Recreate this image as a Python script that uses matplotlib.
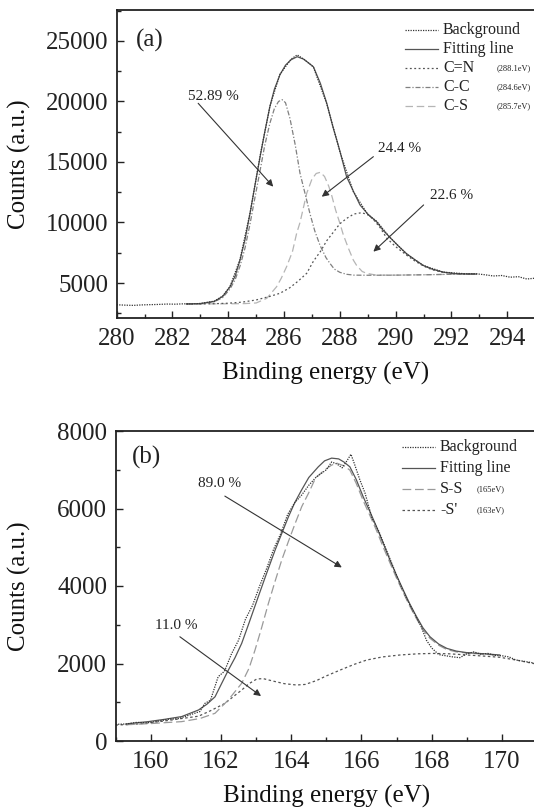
import matplotlib
matplotlib.use("Agg")
import matplotlib.pyplot as plt
from matplotlib.ticker import MultipleLocator

plt.rcParams['font.family'] = ['Liberation Serif', 'DejaVu Serif']
plt.rcParams['mathtext.fontset'] = 'stix'

# ---------------- Panel (a): C 1s ----------------
a_fit_x = [282.5, 283.0, 283.5, 283.8, 284.06, 284.25, 284.42, 284.6, 284.78, 284.95,
           285.14, 285.3, 285.49, 285.65, 285.85, 286.05, 286.25, 286.47, 286.7, 286.9,
           287.05, 287.3, 287.53, 287.75, 287.89, 288.0, 288.24, 288.48, 288.72, 289.0,
           289.32, 289.55, 289.8, 290.1, 290.39, 290.7, 290.99, 291.3, 291.7, 292.1,
           292.5, 292.9]
a_fit_y = [3270, 3300, 3480, 3900, 4690, 5600, 6900, 8600, 10760, 13000,
           15440, 17400, 19570, 21000, 22200, 23000, 23450, 23700, 23500, 23150,
           22870, 21500, 19850, 17900, 16800, 15900, 13780, 12600, 11450, 10700,
           10050, 9350, 8750, 8050, 7420, 6900, 6450, 6150, 5900, 5780,
           5750, 5740]

a_bg_x = [280.0, 280.3, 280.6, 280.9, 281.2, 281.5, 281.8, 282.1, 282.4, 282.7,
          283.0, 283.5, 283.8, 284.06, 284.42, 284.78, 285.14, 285.49, 285.85, 286.25,
          286.47, 286.7, 287.05, 287.53, 288.0, 288.48, 289.0, 289.32, 289.8, 290.39,
          290.99, 291.7, 292.5, 292.9, 293.2, 293.5, 293.8, 294.1, 294.4, 294.7, 295.0]
a_bg_y = [3200, 3170, 3150, 3190, 3210, 3230, 3260, 3250, 3280, 3270,
          3310, 3500, 3920, 4700, 6950, 10800, 15500, 19600, 22250, 23500,
          23850, 23500, 22850, 19800, 15850, 12550, 10650, 10100, 8750, 7400,
          6450, 5900, 5760, 5760, 5680, 5580, 5620, 5480, 5520, 5330, 5400]

a_cn_x = [282.5, 283.5, 284.0, 284.5, 285.0, 285.5, 285.85, 286.2, 286.5, 286.81,
          287.05, 287.3, 287.53, 287.8, 288.0, 288.25, 288.5, 288.78, 289.0, 289.2,
          289.45, 289.68, 290.0, 290.39, 290.7, 291.0, 291.3, 291.7, 292.1, 292.5, 292.9]
a_cn_y = [3270, 3290, 3330, 3420, 3600, 3900, 4150, 4600, 5150, 5800,
          6800, 7600, 8500, 9300, 9900, 10350, 10700, 10810, 10650, 10250,
          9550, 8700, 8000, 7300, 6800, 6400, 6100, 5880, 5780, 5750, 5740]

a_cc_x = [282.5, 283.0, 283.5, 283.8, 284.06, 284.25, 284.42, 284.6, 284.78, 284.95,
          285.14, 285.3, 285.49, 285.65, 285.8, 285.93, 286.05, 286.21, 286.4, 286.57,
          286.75, 286.93, 287.1, 287.29, 287.5, 287.65, 287.8, 288.0, 288.24, 288.5,
          289.0, 290.0, 291.0, 292.0, 292.9]
a_cc_y = [3270, 3280, 3450, 3800, 4500, 5300, 6400, 7900, 9900, 12000,
          14300, 16300, 18200, 19400, 20000, 20150, 19900, 18600, 16400, 14070,
          12400, 10700, 9300, 8100, 7100, 6600, 6150, 5880, 5720, 5650,
          5640, 5650, 5680, 5720, 5740]

a_cs_x = [282.5, 284.0, 284.6, 285.0, 285.38, 285.73, 285.9, 286.09, 286.3, 286.45,
          286.57, 286.7, 286.81, 287.0, 287.15, 287.3, 287.45, 287.6, 287.71, 287.85,
          288.0, 288.12, 288.3, 288.48, 288.6, 288.8, 288.96, 289.3, 290.0, 291.0,
          292.0, 292.9]
a_cs_y = [3270, 3280, 3300, 3350, 3735, 4690, 5400, 6350, 7600, 9110,
          10000, 11300, 12410, 13600, 14050, 14150, 13800, 13000, 12200, 11000,
          9930, 9000, 7900, 6900, 6450, 5950, 5800, 5650, 5650, 5680,
          5720, 5740]

a_xticks = [280, 282, 284, 286, 288, 290, 292, 294]
a_yticks = [5000, 10000, 15000, 20000, 25000]
a_legend = ["Background", "Fitting line", "C=N", "C-C", "C-S"]
a_legend_ev = ["", "", "(288.1eV)", "(284.6eV)", "(285.7eV)"]
a_pct = ["52.89 %", "24.4 %", "22.6 %"]
a_pct_text_xy = [(283.46, 20400), (290.15, 16130), (292.0, 12270)]
a_pct_tail = [(282.92, 19850), (289.2, 15440), (291.0, 11450)]
a_pct_head = [(285.61, 12960), (287.35, 12130), (289.2, 7590)]

# ---------------- Panel (b): S 2p ----------------
b_fit_x = [159.3, 159.6, 159.93, 160.4, 160.88, 161.36, 161.6, 161.83, 162.0, 162.21,
           162.4, 162.59, 162.8, 163.06, 163.3, 163.54, 163.75, 163.92, 164.1, 164.29,
           164.5, 164.77, 164.95, 165.15, 165.35, 165.5, 165.67, 165.85, 166.05, 166.25,
           166.43, 166.62, 166.81, 167.0, 167.19, 167.38, 167.57, 167.75, 167.95, 168.2,
           168.43, 168.7, 169.0, 169.5, 169.94]
b_fit_y = [440, 470, 500, 560, 630, 800, 950, 1140, 1450, 1830,
           2150, 2520, 3050, 3720, 4330, 4925, 5400, 5785, 6150, 6470,
           6800, 7075, 7230, 7300, 7280, 7200, 7075, 6750, 6300, 5900,
           5525, 5100, 4670, 4270, 3895, 3530, 3205, 2920, 2690, 2500,
           2390, 2320, 2280, 2250, 2220]

b_ss_x = [159.3, 160.0, 160.88, 161.4, 161.83, 162.2, 162.59, 162.8, 162.97, 163.15,
          163.35, 163.55, 163.73, 163.92, 164.11, 164.3, 164.49, 164.7, 164.96, 165.15,
          165.3, 165.5, 165.67, 165.85, 166.05, 166.25, 166.43, 166.62, 166.81, 167.0,
          167.19, 167.38, 167.57, 167.75, 167.95, 168.2, 168.43, 168.7, 169.0, 169.5, 169.94]
b_ss_y = [420, 450, 500, 580, 715, 1050, 1490, 1880, 2350, 2900,
          3550, 4150, 4670, 5150, 5610, 6050, 6390, 6800, 7000, 7120,
          7170, 7100, 6990, 6650, 6200, 5800, 5430, 5000, 4600, 4200,
          3830, 3470, 3150, 2870, 2650, 2470, 2360, 2300, 2270, 2240, 2210]

b_s2_x = [159.0, 159.5, 160.0, 160.5, 160.88, 161.36, 161.7, 162.11, 162.4, 162.59,
          162.8, 163.02, 163.2, 163.49, 163.8, 164.15, 164.4, 164.72, 165.0, 165.39,
          165.8, 166.15, 166.6, 167.1, 167.6, 168.05, 168.5, 169.0, 169.5, 169.94,
          170.4, 170.89, 171.0]
b_s2_y = [412, 430, 470, 530, 580, 640, 780, 970, 1180, 1315,
          1480, 1600, 1610, 1545, 1480, 1445, 1460, 1560, 1680, 1830,
          1980, 2090, 2170, 2220, 2250, 2260, 2250, 2220, 2190, 2160,
          2090, 2000, 1990]

b_bg_x = [159.0, 159.3, 159.6, 159.9, 160.2, 160.5, 160.8, 161.0, 161.2, 161.4,
          161.54, 161.7, 161.92, 162.1, 162.3, 162.5, 162.7, 162.9, 163.1, 163.3,
          163.5, 163.7, 163.9, 164.1, 164.3, 164.5, 164.7, 164.85, 165.0, 165.15,
          165.3, 165.45, 165.6, 165.7, 165.8, 165.95, 166.1, 166.3, 166.5, 166.7,
          166.9, 167.1, 167.3, 167.5, 167.7, 167.85, 168.0, 168.2, 168.4, 168.6,
          168.8, 169.0, 169.2, 169.4, 169.6, 169.8, 170.0, 170.2, 170.4, 170.6,
          170.8, 171.0]
b_bg_y = [430, 440, 480, 470, 510, 560, 580, 640, 700, 760,
          970, 1050, 1660, 1800, 2250, 2600, 3150, 3500, 4000, 4450,
          4950, 5350, 5850, 6150, 6350, 6600, 6800, 6900, 7000, 7200,
          7150, 7050, 7250, 7400, 7150, 6750, 6400, 5750, 5400, 4950,
          4500, 4050, 3650, 3300, 2950, 2600, 2400, 2230, 2200, 2170,
          2150, 2250, 2300, 2240, 2260, 2210, 2200, 2170, 2090, 2060,
          2030, 2000]

b_xticks = [160, 162, 164, 166, 168, 170]
b_yticks = [0, 2000, 4000, 6000, 8000]
b_legend = ["Background", "Fitting line", "S-S", "-S'"]
b_legend_ev = ["", "", "(165eV)", "(163eV)"]
b_pct = ["89.0 %", "11.0 %"]
b_pct_text_xy = [(161.97, 6646), (160.74, 2990)]
b_pct_tail = [(162.11, 6320), (160.83, 2690)]
b_pct_head = [(165.44, 4480), (163.14, 1160)]

# ---------------- figure ----------------
W, H = 534, 808
fig = plt.figure(figsize=(W / 100, H / 100), dpi=100)

ax_a = fig.add_axes([116.7 / W, 1 - 318 / H, (535.2 - 116.7) / W, (318 - 10) / H])
ax_b = fig.add_axes([115.6 / W, 1 - 741 / H, (537.1 - 115.6) / W, (741 - 431) / H])

styles_a = [
    dict(color='#333333', lw=0.9, ls=(0, (1.0, 1.0))),        # background/data
    dict(color='#555555', lw=0.9, ls='-'),                    # fit
    dict(color='#555555', lw=0.9, ls=(0, (1.5, 2.0))),        # C=N
    dict(color='#808080', lw=0.9, ls=(0, (4, 1.5, 1, 1.5))),  # C-C
    dict(color='#b5b5b5', lw=0.9, ls=(0, (6, 3))),            # C-S
]
series_a = [(a_bg_x, a_bg_y), (a_fit_x, a_fit_y), (a_cn_x, a_cn_y),
            (a_cc_x, a_cc_y), (a_cs_x, a_cs_y)]
for i in [4, 3, 2, 1, 0]:
    ax_a.plot(series_a[i][0], series_a[i][1], **styles_a[i])

styles_b = [
    dict(color='#333333', lw=0.9, ls=(0, (1.0, 1.0))),        # background/data
    dict(color='#555555', lw=0.9, ls='-'),                    # fit
    dict(color='#9a9a9a', lw=0.9, ls=(0, (7, 3))),            # S-S
    dict(color='#555555', lw=0.9, ls=(0, (2.0, 2.0))),        # -S'
]
series_b = [(b_bg_x, b_bg_y), (b_fit_x, b_fit_y), (b_ss_x, b_ss_y), (b_s2_x, b_s2_y)]
for i in [3, 2, 1, 0]:
    ax_b.plot(series_b[i][0], series_b[i][1], **styles_b[i])


def style_axes(ax, xlim, ylim, xticks, yticks, xminor, yminor):
    ax.set_xlim(*xlim)
    ax.set_ylim(*ylim)
    ax.set_xticks(xticks)
    ax.set_yticks(yticks)
    ax.xaxis.set_minor_locator(MultipleLocator(xminor))
    ax.yaxis.set_minor_locator(MultipleLocator(yminor))
    ax.tick_params(which='both', direction='in', top=False, right=False,
                   labelsize=18, width=1.0, colors='#222222')
    ax.xaxis.set_tick_params(which='both', pad=7)
    ax.yaxis.set_tick_params(which='both', pad=6)
    ax.tick_params(which='major', length=5)
    ax.tick_params(which='minor', length=3)
    for s in ['left', 'bottom', 'top']:
        ax.spines[s].set_linewidth(1.3)
        ax.spines[s].set_color('#222222')
    ax.spines['right'].set_visible(False)
    ax.set_xlabel('Binding energy (eV)', fontsize=18, labelpad=9, color='#111111')
    ax.set_ylabel('Counts (a.u.)', fontsize=18, color='#111111')


style_axes(ax_a, (280, 295), (2108, 27560), a_xticks, a_yticks, 1, 2500)
style_axes(ax_b, (159, 171), (0, 8000), b_xticks, b_yticks, 1, 1000)

ax_a.yaxis.set_label_coords((31 - 116.7) / (535.2 - 116.7), 0.5)
ax_b.yaxis.set_label_coords((31 - 115.6) / (537.1 - 115.6), 0.5)


def draw_legend(ax, labels, evs, styles, x0, x1, xt, xev, y0, dy):
    for k, (lab, ev, st) in enumerate(zip(labels, evs, styles)):
        y = y0 - k * dy
        ax.plot([x0, x1], [y, y], transform=ax.transAxes, **st)
        ax.text(xt, y, lab, transform=ax.transAxes, fontsize=11.5,
                va='center', ha='left', color='#222222')
        if ev:
            ax.text(xev, y, ev, transform=ax.transAxes, fontsize=6,
                    va='center', ha='left', color='#222222')


aw = 535.2 - 116.7
draw_legend(ax_a, a_legend, a_legend_ev, styles_a,
            (405 - 116.7) / aw, (438 - 116.7) / aw, (443 - 116.7) / aw,
            (497 - 116.7) / aw, 1 - (30 - 10) / 308, 19 / 308)
bw = 537.1 - 115.6
draw_legend(ax_b, b_legend, b_legend_ev, styles_b,
            (402 - 115.6) / bw, (435 - 115.6) / bw, (440 - 115.6) / bw,
            (477 - 115.6) / bw, 1 - (447 - 431) / 310, 21 / 310)

ax_a.text(281.2, 25080, '(a)', fontsize=18, ha='center', va='center', color='#222222')
ax_b.text(159.88, 7330, '(b)', fontsize=18, ha='center', va='center', color='#222222')

for ax, pcts, txy, tails, heads in [(ax_a, a_pct, a_pct_text_xy, a_pct_tail, a_pct_head),
                                     (ax_b, b_pct, b_pct_text_xy, b_pct_tail, b_pct_head)]:
    for p, t, tl, hd in zip(pcts, txy, tails, heads):
        ax.text(t[0], t[1], p, fontsize=11, ha='center', va='center', color='#222222')
        ax.annotate('', xy=hd, xytext=tl,
                    arrowprops=dict(arrowstyle='-|>', color='#333333', lw=0.8,
                                    mutation_scale=10, shrinkA=0, shrinkB=0))

fig.savefig('out.png', dpi=100)
